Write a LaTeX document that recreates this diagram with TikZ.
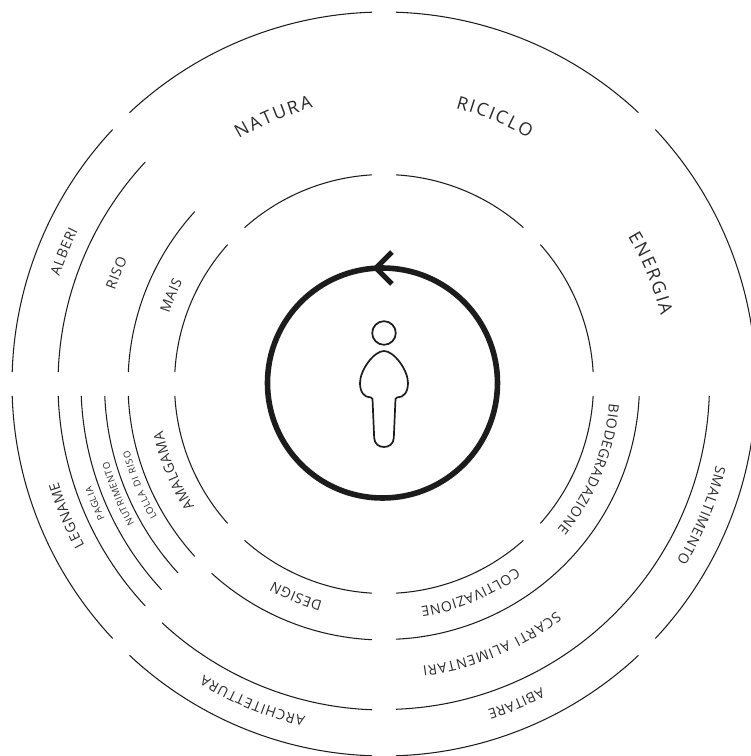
\documentclass[tikz,border=0pt]{standalone}
\usepackage{fontspec}
\newfontfamily\dinfont{Open Sans}
\definecolor{ink}{HTML}{1C1C1C}
\definecolor{txt}{HTML}{2A2A2A}
\tikzset{
  ringarc/.style={draw=ink,line width=1.05pt},
  thickring/.style={draw=ink,line width=5.6pt},
  figure line/.style={draw=ink,line width=1.7pt},
  arcletter/.style={text=txt,inner sep=0pt,outer sep=0pt,anchor=base}
}
\newcommand{\ringseg}[3]{%
  \pgfmathsetmacro{\ga}{#2-asin(12/#1)}%
  \pgfmathsetmacro{\gb}{#3+asin(12/#1)}%
  \draw[ringarc] (\ga:#1) arc[start angle=\ga,end angle=\gb,radius=#1];}
\newcommand{\wordgap}{\kern .32em}
\newdimen\lbltotal \newdimen\lblpos \newdimen\lblw
\newcount\lblno
\makeatletter
% \arclabel{centre angle}{baseline radius}{size}{tracking}{letters}
\newcommand{\arclabel}[5]{%
  \begingroup
  \def\lblfont{\dinfont\fontsize{#3}{#3}\selectfont}%
  \lbltotal=0pt
  \@tfor\lblc:=#5\do{%
    \settowidth\lblw{\pgfinterruptpicture\lblfont\lblc\endpgfinterruptpicture}%
    \advance\lbltotal by\lblw
    \advance\lbltotal by #4pt}%
  \advance\lbltotal by -#4pt
  \lblpos=0pt
  \@tfor\lblc:=#5\do{%
    \settowidth\lblw{\pgfinterruptpicture\lblfont\lblc\endpgfinterruptpicture}%
    \pgfmathsetmacro{\lblang}{#1+(\lbltotal/2-\lblpos-\lblw/2)/(#2)*180/pi}%
    \global\advance\lblno by 1
    \node[arcletter,font=\lblfont,rotate=\lblang-90] (ch\the\lblno) at (\lblang:#2) {\lblc};%
    \advance\lblpos by\lblw
    \advance\lblpos by #4pt}%
  \endgroup}
\makeatother
\begin{document}
\begin{tikzpicture}[x=1pt,y=1pt]
\useasboundingbox (-384,-372) rectangle (367,384);
\ringseg{372}{180}{135}\ringseg{372}{135}{90}\ringseg{372}{90}{45}\ringseg{372}{45}{0}
\ringseg{372}{0}{-45}\ringseg{372}{-45}{-90}\ringseg{372}{-90}{-135}\ringseg{372}{-135}{-180}
\ringseg{326}{180}{135}
\ringseg{256}{180}{135}
\ringseg{209.5}{180}{135}\ringseg{209.5}{135}{90}
\ringseg{209.5}{90}{45}\ringseg{209.5}{45}{0}
\ringseg{209.5}{0}{-45}\ringseg{209.5}{-45}{-90}
\ringseg{255.5}{0}{-90}
\ringseg{325.5}{0}{-90}
\ringseg{326}{-90}{-135}\ringseg{326}{-135}{-180}
\ringseg{303}{-135}{-180}
\ringseg{279.5}{-135}{-180}
\ringseg{256}{-90}{-135}\ringseg{256}{-135}{-180}
\ringseg{209.5}{-90}{-135}\ringseg{209.5}{-135}{-180}
\draw[thickring] (-1.5,1) circle[radius=115];
\draw[draw=ink,line width=5pt,line join=miter] (8,132) -- (-8,116) -- (8,100);
\draw[figure line] (0,51) circle[radius=11.8];
\draw[figure line] (0,33)
  .. controls (-10,33) and (-24,14) .. (-24,1)
  .. controls (-24,-8) and (-20,-13.5) .. (-13,-13.5)
  .. controls (-12,-13.5) and (-11.7,-14) .. (-11.5,-15)
  -- (-9.8,-54)
  .. controls (-9.5,-60) and (-5,-63) .. (0,-63)
  .. controls (5,-63) and (9.5,-60) .. (9.8,-54)
  -- (11.5,-15)
  .. controls (11.7,-14) and (12,-13.5) .. (13,-13.5)
  .. controls (20,-13.5) and (24,-8) .. (24,1)
  .. controls (24,14) and (10,33) .. (0,33) -- cycle;
\arclabel{112.5}{285}{18}{2}{NATURA}
\arclabel{67.5}{285}{18}{2}{RICICLO}
\arclabel{22.5}{285}{18}{2}{ENERGIA}
\arclabel{157.5}{342}{14}{.7}{ALBERI}
\arclabel{157.5}{285}{14}{.7}{RISO}
\arclabel{157.5}{226}{14}{.7}{MAIS}
\arclabel{202.5}{340}{14}{.6}{LEGNAME}
\arclabel{202.5}{310}{9.5}{.6}{PAGLIA}
\arclabel{202.5}{286}{9.5}{.6}{NUTRIMENTO}
\arclabel{202.5}{263}{9.5}{.6}{LOLLA\wordgap DI\wordgap RISO}
\arclabel{202.5}{226}{14}{.6}{AMALGAMA}
\arclabel{247.5}{226}{14}{.6}{DESIGN}
\arclabel{247.5}{342}{14}{1}{ARCHITETTURA}
\arclabel{-22.5}{226}{14}{.6}{BIODEGRADAZIONE}
\arclabel{-67.5}{226}{14}{.6}{COLTIVAZIONE}
\arclabel{-22.5}{342}{14}{.6}{SMALTIMENTO}
\arclabel{-67.5}{285}{14}{1}{SCARTI\wordgap ALIMENTARI}
\arclabel{-67.5}{342}{14}{.6}{ABITARE}
\end{tikzpicture}
\end{document}
